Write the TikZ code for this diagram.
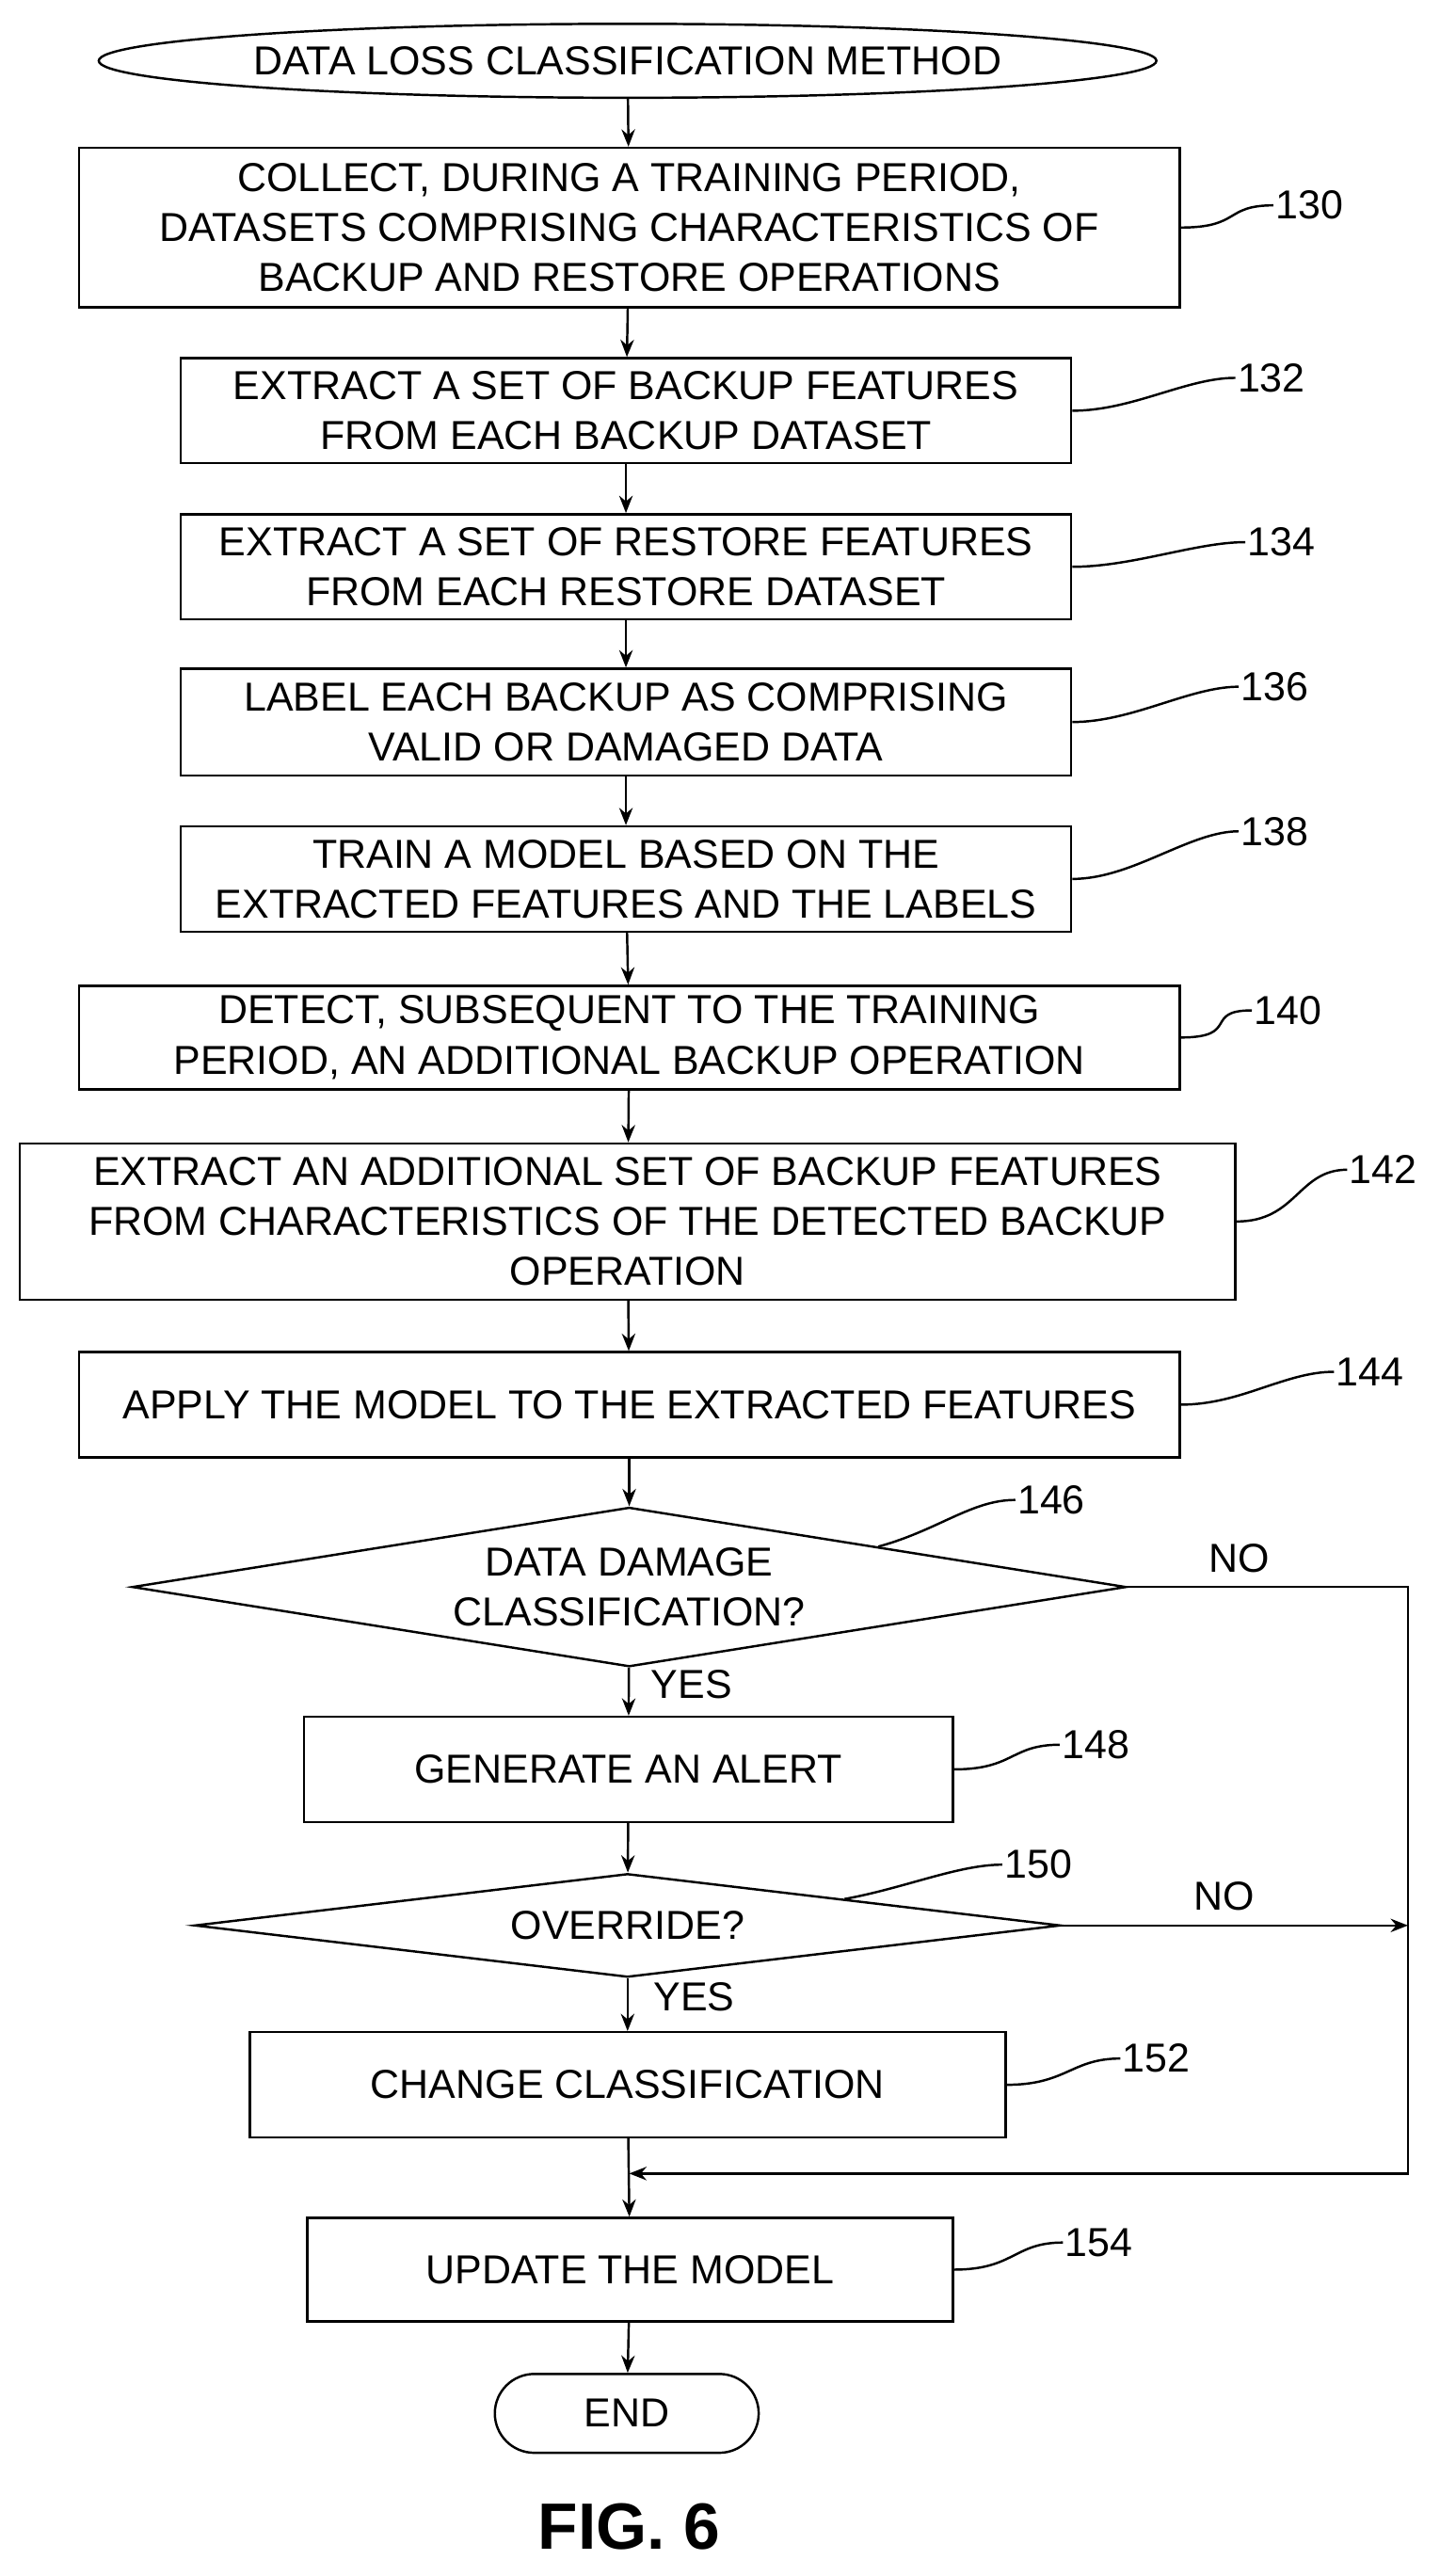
\documentclass[tikz,border=0pt]{standalone}
\usepackage{fontspec}
\setmainfont{Liberation Sans}
\usetikzlibrary{shapes.geometric,shapes.misc,arrows.meta}
\tikzset{
  box/.style={draw, line width=1.2pt, align=center, inner sep=0pt},
  term/.style={draw, line width=1.2pt, ellipse, inner sep=0pt},
  decision/.style={draw, line width=1.2pt, diamond, inner sep=0pt},
  arr/.style={line width=1.2pt, -{Stealth[length=9pt,width=7pt]}},
  leader/.style={line width=1.2pt},
  ref/.style={anchor=west, inner sep=1pt}
}
\begin{document}
\fontsize{21}{26}\selectfont
\begin{tikzpicture}[x=0.03cm,y=-0.03cm]
  \useasboundingbox (0,0) rectangle (876,1568);
  % terminals
  \node[term, minimum width=17.8cm, minimum height=1.35cm] (start) at (382,37) {DATA LOSS CLASSIFICATION METHOD};
  \node[draw, line width=1.2pt, rounded rectangle, minimum width=5.31cm, minimum height=1.44cm] (end) at (381.5,1469) {END};
  % steps
  \node[box, minimum width=20.1cm, minimum height=2.91cm] (b130) at (383,138.5) {COLLECT, DURING A TRAINING PERIOD,\\DATASETS COMPRISING CHARACTERISTICS OF\\BACKUP AND RESTORE OPERATIONS};
  \node[box, minimum width=16.26cm, minimum height=1.92cm] (b132) at (381,250) {EXTRACT A SET OF BACKUP FEATURES\\FROM EACH BACKUP DATASET};
  \node[box, minimum width=16.26cm, minimum height=1.92cm] (b134) at (381,345) {EXTRACT A SET OF RESTORE FEATURES\\FROM EACH RESTORE DATASET};
  \node[box, minimum width=16.26cm, minimum height=1.95cm] (b136) at (381,439.5) {LABEL EACH BACKUP AS COMPRISING\\VALID OR DAMAGED DATA};
  \node[box, minimum width=16.26cm, minimum height=1.92cm] (b138) at (381,535) {TRAIN A MODEL BASED ON THE\\EXTRACTED FEATURES AND THE LABELS};
  \node[box, minimum width=20.1cm, minimum height=1.89cm] (b140) at (383,631.5) {DETECT, SUBSEQUENT TO THE TRAINING\\PERIOD, AN ADDITIONAL BACKUP OPERATION};
  \node[box, minimum width=22.2cm, minimum height=2.85cm] (b142) at (382,743.5) {EXTRACT AN ADDITIONAL SET OF BACKUP FEATURES\\FROM CHARACTERISTICS OF THE DETECTED BACKUP\\OPERATION};
  \node[box, minimum width=20.1cm, minimum height=1.92cm] (b144) at (383,855) {APPLY THE MODEL TO THE EXTRACTED FEATURES};
  \node[decision, minimum width=18.15cm, minimum height=2.91cm] (d146) at (383,966) {};
  \node[align=center] (t146) at (383,966) {DATA DAMAGE\\CLASSIFICATION?};
  \node[box, minimum width=11.85cm, minimum height=1.92cm] (b148) at (382.5,1077) {GENERATE AN ALERT};
  \node[decision, minimum width=15.81cm, minimum height=1.89cm] (d150) at (382,1172) {};
  \node (t150) at (382,1172) {OVERRIDE?};
  \node[box, minimum width=13.8cm, minimum height=1.92cm] (b152) at (382,1269) {CHANGE CLASSIFICATION};
  \node[box, minimum width=11.79cm, minimum height=1.89cm] (b154) at (383.5,1381.5) {UPDATE THE MODEL};
  % reference numerals
  \node[ref] (l130) at (775,125) {130};
  \node[ref] (l132) at (752,230) {132};
  \node[ref] (l134) at (758,330) {134};
  \node[ref] (l136) at (754,418) {136};
  \node[ref] (l138) at (754,506) {138};
  \node[ref] (l140) at (762,615) {140};
  \node[ref] (l142) at (820,712) {142};
  \node[ref] (l144) at (812,835) {144};
  \node[ref] (l146) at (618,913) {146};
  \node[ref] (l148) at (645,1062) {148};
  \node[ref] (l150) at (610,1135) {150};
  \node[ref] (l152) at (682,1253) {152};
  \node[ref] (l154) at (647,1365) {154};
  \foreach \b/\l in {b130/l130,b132/l132,b134/l134,b136/l136,b138/l138,b140/l140,b142/l142,b144/l144,b148/l148,b152/l152,b154/l154}
    \draw[leader] (\b.east) .. controls +(1.1cm,0) and +(-0.9cm,0) .. (\l.west);
  \draw[leader] (d146.north east) .. controls +(1.1cm,0.3cm) and +(-0.8cm,0) .. (l146.west);
  \draw[leader] (d150.north east) .. controls +(1.1cm,0.2cm) and +(-0.8cm,0) .. (l150.west);
  % flow
  \draw[arr] (start) -- (b130);
  \draw[arr] (b130) -- (b132);
  \draw[arr] (b132) -- (b134);
  \draw[arr] (b134) -- (b136);
  \draw[arr] (b136) -- (b138);
  \draw[arr] (b138) -- (b140);
  \draw[arr] (b140) -- (b142);
  \draw[arr] (b142) -- (b144);
  \draw[arr] (b144) -- (d146);
  \draw[arr] (d146) -- node[right, pos=0.35, xshift=4pt] {YES} (b148);
  \draw[arr] (b148) -- (d150);
  \draw[arr] (d150) -- node[right, pos=0.35, xshift=6pt] {YES} (b152);
  \draw[arr] (b152) -- (b154);
  \draw[arr] (b154) -- (end);
  \coordinate (c1) at (857,966);
  \coordinate (c2) at (857,1323);
  \coordinate (m) at (383,1323);
  \coordinate (c3) at (857,1172);
  \draw[arr] (d146.east) -- node[above, pos=0.4] {NO} (c1) -- (c2) -- (m);
  \draw[arr] (d150.east) -- node[above, pos=0.47] {NO} (c3);
  \node[font=\fontsize{34}{40}\selectfont\bfseries] (fig) at (383,1538) {FIG. 6};
\end{tikzpicture}
\end{document}
